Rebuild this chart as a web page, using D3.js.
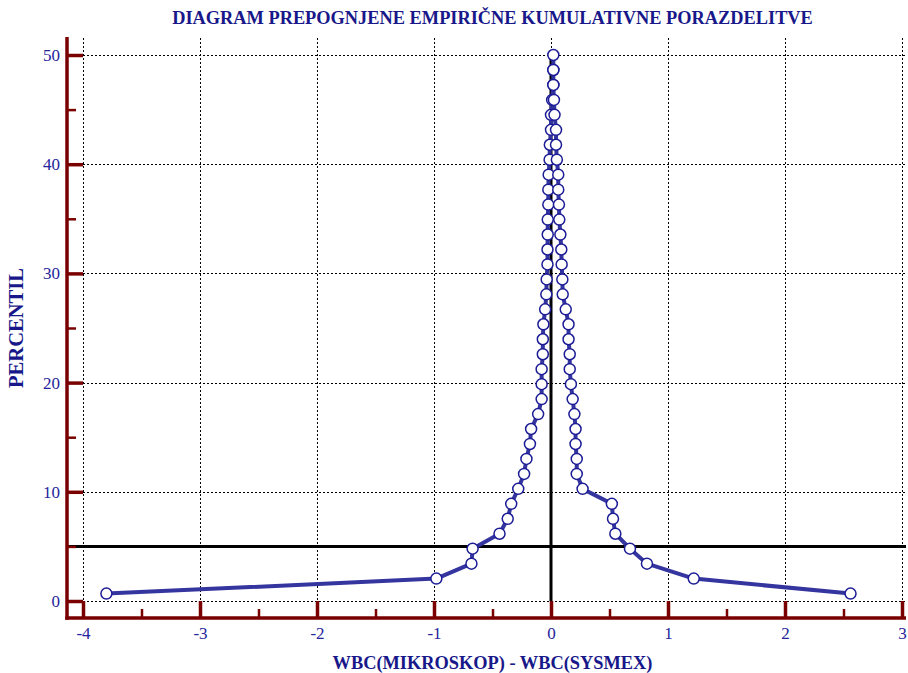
<!DOCTYPE html>
<html><head><meta charset="utf-8">
<script src="https://cdn.jsdelivr.net/npm/d3@7"></script>
<style>body{margin:0;background:#fff}svg{display:block}</style>
</head><body>
<svg id="chart" width="908" height="673"></svg>
<script>
// ---- data ----
const title = "DIAGRAM PREPOGNJENE EMPIRIČNE KUMULATIVNE PORAZDELITVE";
const xLabel = "WBC(MIKROSKOP) - WBC(SYSMEX)";
const yLabel = "PERCENTIL";
// sorted differences, in drawing order (left branch up, right branch down)
const differences = [
  -3.80, -0.98, -0.68, -0.67, -0.44, -0.37, -0.34, -0.28, -0.23, -0.21,
  -0.18, -0.17, -0.11, -0.08, -0.08, -0.08, -0.07, -0.07, -0.065, -0.05,
  -0.04, -0.037, -0.03, -0.03, -0.028, -0.028, -0.023, -0.023, -0.02, -0.012,
  -0.01, 0.0, 0.0, 0.01, 0.02, 0.02, 0.02,
  0.02, 0.02, 0.025, 0.03, 0.043, 0.043, 0.05, 0.062, 0.062, 0.068,
  0.071, 0.08, 0.088, 0.091, 0.097, 0.10, 0.126, 0.15, 0.15, 0.16,
  0.16, 0.17, 0.185, 0.20, 0.21, 0.21, 0.22, 0.22, 0.27, 0.52,
  0.53, 0.55, 0.675, 0.82, 1.22, 2.56
];
// folded percentile of each point
const percentiles = [
  0.68, 2.05, 3.42, 4.79, 6.16, 7.53, 8.90, 10.27, 11.64, 13.01,
  14.38, 15.75, 17.12, 18.49, 19.86, 21.23, 22.60, 23.97, 25.34, 26.71,
  28.08, 29.45, 30.82, 32.19, 33.56, 34.93, 36.30, 37.67, 39.04, 40.41,
  41.78, 43.15, 44.52, 45.89, 47.26, 48.63, 50.00,
  48.63, 47.26, 45.89, 44.52, 43.15, 41.78, 40.41, 39.04, 37.67, 36.30,
  34.93, 33.56, 32.19, 30.82, 29.45, 28.08, 26.71, 25.34, 23.97, 22.60,
  21.23, 19.86, 18.49, 17.12, 15.75, 14.38, 13.01, 11.64, 10.27, 8.90,
  7.53, 6.16, 4.79, 3.42, 2.05, 0.68
];
const xTicks = [-4, -3, -2, -1, 0, 1, 2, 3];
const xMinorTicks = [-3.5, -2.5, -1.5, -0.5, 0.5, 1.5, 2.5];
const yTicks = [0, 10, 20, 30, 40, 50];
const yMinorTicks = [5, 15, 25, 35, 45];
const refX = 0;   // vertical reference line
const refY = 5;   // horizontal reference line

// ---- layout ----
const gridL = 83, gridR = 902, gridT = 55, gridB = 601;
const plotTop = 38, plotRight = 906;
const axisX = 67, axisY = 618;
const serif = "'Liberation Serif','Times New Roman',serif";
const navy = "#18188a", tickNavy = "#24249c", maroon = "#7a0000";
const lineCol = "#3535a0", ptCol = "#1c1c96";

const svg = d3.select("#chart");
const x = d3.scaleLinear().domain([-4, 3]).range([gridL, gridR]);
const y = d3.scaleLinear().domain([0, 50]).range([gridB, gridT]);

// grid
const grid = svg.append("g").attr("stroke", "#000").attr("stroke-width", 1)
  .attr("stroke-dasharray", "2,2").attr("shape-rendering", "crispEdges");
grid.selectAll("line.v").data(xTicks).join("line").attr("class", "v")
  .attr("x1", d => Math.round(x(d)) + 0.5).attr("x2", d => Math.round(x(d)) + 0.5)
  .attr("y1", plotTop).attr("y2", y(0));
grid.selectAll("line.h").data(yTicks).join("line").attr("class", "h")
  .attr("y1", d => Math.round(y(d)) + 0.5).attr("y2", d => Math.round(y(d)) + 0.5)
  .attr("x1", x(-4)).attr("x2", plotRight);

// reference lines
svg.append("line").attr("x1", axisX).attr("x2", plotRight)
  .attr("y1", y(refY)).attr("y2", y(refY))
  .attr("stroke", "#000").attr("stroke-width", 3);
svg.append("line").attr("x1", x(refX)).attr("x2", x(refX))
  .attr("y1", y(0)).attr("y2", y(50))
  .attr("stroke", "#000").attr("stroke-width", 3);

// axes: ticks
const xMajor = svg.append("g").attr("transform", `translate(0,${axisY})`)
  .call(d3.axisTop(x).tickValues(xTicks).tickSize(axisY - gridB).tickFormat(""));
const xMinor = svg.append("g").attr("transform", `translate(0,${axisY})`)
  .call(d3.axisTop(x).tickValues(xMinorTicks).tickSize(9).tickFormat(""));
const yMajor = svg.append("g").attr("transform", `translate(${axisX},0)`)
  .call(d3.axisRight(y).tickValues(yTicks).tickSize(gridL - axisX).tickFormat(""));
const yMinor = svg.append("g").attr("transform", `translate(${axisX},0)`)
  .call(d3.axisRight(y).tickValues(yMinorTicks).tickSize(9).tickFormat(""));
[xMajor, xMinor, yMajor, yMinor].forEach(g => {
  g.select(".domain").remove();
  g.selectAll(".tick line").attr("stroke", maroon);
});
[xMajor, yMajor].forEach(g => g.selectAll(".tick line").attr("stroke-width", 3.5));
[xMinor, yMinor].forEach(g => g.selectAll(".tick line").attr("stroke-width", 2.5));

// axes: labels (plain hyphen for negatives, as in the reference)
const fmt = d => String(d);
const xLab = svg.append("g").attr("transform", `translate(0,${axisY})`)
  .call(d3.axisBottom(x).tickValues(xTicks).tickSize(0).tickPadding(9).tickFormat(fmt));
const yLab = svg.append("g").attr("transform", `translate(${axisX},0)`)
  .call(d3.axisLeft(y).tickValues(yTicks).tickSize(0).tickPadding(7).tickFormat(fmt));
[xLab, yLab].forEach(g => {
  g.select(".domain").remove();
  g.selectAll("text").attr("font-family", serif).attr("font-size", 17).attr("fill", tickNavy);
});

// axis lines
svg.append("line").attr("x1", axisX - 1.75).attr("x2", plotRight).attr("y1", axisY).attr("y2", axisY)
  .attr("stroke", maroon).attr("stroke-width", 3.5);
svg.append("line").attr("x1", axisX).attr("x2", axisX).attr("y1", plotTop - 1).attr("y2", axisY + 1.75)
  .attr("stroke", maroon).attr("stroke-width", 3.5);

// data line + points
const pts = differences.map((d, i) => [d, percentiles[i]]);
svg.append("path").datum(pts)
  .attr("d", d3.line().x(d => x(d[0])).y(d => y(d[1])))
  .attr("fill", "none").attr("stroke", lineCol).attr("stroke-width", 4)
  .attr("stroke-linejoin", "round");
svg.append("g").selectAll("circle").data(pts).join("circle")
  .attr("cx", d => x(d[0])).attr("cy", d => y(d[1])).attr("r", 5.5)
  .attr("fill", "#fff").attr("stroke", ptCol).attr("stroke-width", 1.5);

// titles
function fit(sel, target) {
  const fs = 16;
  sel.attr("font-size", fs);
  const w = sel.node().getComputedTextLength();
  sel.attr("font-size", fs * target / w);
}
const cx = (gridL + gridR) / 2;
fit(svg.append("text").text(title).attr("x", cx).attr("y", 24)
  .attr("text-anchor", "middle").attr("font-family", serif).attr("font-weight", "bold").attr("fill", navy), 641);
fit(svg.append("text").text(xLabel).attr("x", cx).attr("y", 669)
  .attr("text-anchor", "middle").attr("font-family", serif).attr("font-weight", "bold").attr("fill", navy), 320);
fit(svg.append("text").text(yLabel).attr("transform", `translate(23,${(plotTop + axisY) / 2}) rotate(-90)`)
  .attr("text-anchor", "middle").attr("font-family", serif).attr("font-weight", "bold").attr("fill", navy), 120);
</script>
</body></html>
